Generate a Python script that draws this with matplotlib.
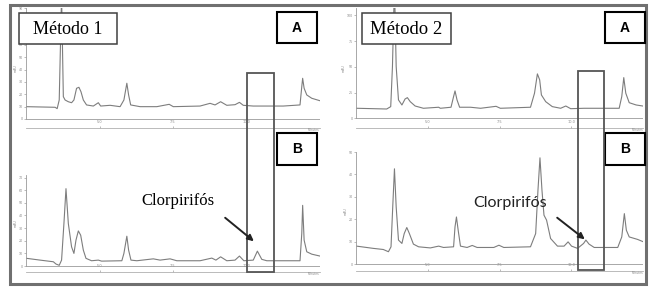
import matplotlib.pyplot as plt
from matplotlib.patches import Rectangle, FancyArrowPatch

W, H = 655, 292

# retention time (min) and detector signal
t_1a = [2.50, 3.49, 3.56, 3.63, 3.71, 3.77, 3.83, 3.94, 4.05, 4.13, 4.22, 4.30, 4.37, 4.45, 4.56,
        4.79, 4.96, 5.04, 5.36, 5.70, 5.83, 5.93, 5.99, 6.06, 6.38, 6.95, 7.37, 7.51, 8.42, 8.76,
        8.93, 9.12, 9.33, 9.61, 9.76, 9.89, 10.23, 11.25, 11.82, 11.88, 11.91, 11.96, 12.05, 12.22, 12.50]
s_1a = [10.0, 9.5, 8.4, 15.4, 100, 18.1, 15.4, 14.0, 13.2, 15.4, 24.9, 25.7, 22.1, 15.4, 11.4,
        10.5, 13.2, 10.5, 11.1, 10.0, 15.4, 29.0, 19.5, 11.4, 10.0, 10.0, 11.9, 10.0, 10.5, 12.7,
        11.4, 14.0, 11.1, 11.6, 13.5, 11.1, 10.5, 10.5, 11.4, 26.2, 33.0, 24.9, 19.5, 16.8, 14.8]

t_1b = [2.52, 2.98, 3.43, 3.52, 3.63, 3.71, 3.79, 3.86, 3.94, 4.05, 4.13, 4.20, 4.28, 4.36, 4.45,
        4.54, 4.73, 4.96, 5.07, 5.76, 5.83, 5.93, 5.99, 6.07, 6.27, 6.83, 7.06, 7.40, 7.63, 8.42,
        8.82, 8.96, 9.12, 9.33, 9.61, 9.76, 9.91, 10.23, 10.37, 10.52, 10.69, 11.82, 11.88, 11.91,
        11.96, 12.05, 12.22, 12.50]
s_1b = [6.1, 4.7, 3.4, 1.6, 0.6, 4.7, 33.6, 61.2, 33.6, 15.2, 10.0, 20.5, 27.8, 24.4, 12.6,
        6.1, 4.2, 4.7, 3.9, 4.2, 10.0, 23.6, 12.6, 4.7, 4.2, 5.7, 4.7, 5.7, 4.2, 4.2,
        6.3, 4.7, 7.3, 4.2, 4.7, 7.9, 4.2, 4.7, 11.8, 5.3, 4.2, 4.2, 25.7, 48.0,
        20.5, 11.3, 9.4, 7.9]

t_2a = [2.52, 3.57, 3.71, 3.77, 3.84, 3.90, 3.98, 4.10, 4.21, 4.29, 4.39, 4.56, 4.85, 5.38, 5.44,
        5.81, 5.90, 5.95, 6.02, 6.11, 6.49, 6.84, 7.38, 7.53, 8.58, 8.72, 8.82, 8.90, 8.96, 9.11,
        9.34, 9.63, 9.81, 9.98, 10.45, 11.67, 11.76, 11.83, 11.90, 12.02, 12.26, 12.49]
s_2a = [9.9, 9.2, 11.5, 50.3, 130, 50.3, 18.0, 13.1, 18.9, 20.2, 16.3, 12.1, 9.9, 10.9, 9.9,
        10.9, 21.2, 26.7, 18.0, 10.9, 10.9, 9.9, 11.8, 9.9, 10.9, 24.5, 43.2, 37.4, 22.8, 16.3,
        11.5, 9.9, 12.1, 9.5, 9.9, 9.9, 21.2, 39.6, 24.5, 15.3, 13.1, 12.1]

t_2b = [2.52, 3.10, 3.45, 3.63, 3.72, 3.78, 3.84, 3.90, 3.98, 4.10, 4.18, 4.27, 4.36, 4.50, 4.68,
        5.09, 5.38, 5.55, 5.90, 5.95, 6.00, 6.06, 6.14, 6.37, 6.55, 6.72, 7.30, 7.48, 7.65, 8.58,
        8.76, 8.84, 8.91, 8.98, 9.05, 9.14, 9.28, 9.52, 9.75, 9.89, 10.01, 10.22, 10.43, 10.51, 10.62,
        10.80, 11.62, 11.76, 11.85, 11.92, 12.02, 12.31, 12.50]
s_2b = [8.0, 7.0, 6.5, 5.5, 7.7, 25.5, 42.5, 25.5, 10.7, 9.2, 13.6, 16.3, 13.6, 8.9, 7.7,
        7.2, 8.0, 7.4, 7.7, 16.6, 21.0, 15.1, 8.0, 7.4, 8.3, 7.4, 7.4, 8.4, 7.4, 7.7,
        13.6, 32.9, 47.4, 32.9, 21.8, 19.6, 11.4, 8.0, 8.0, 9.9, 8.0, 7.0, 9.2, 10.7, 8.9,
        7.4, 7.4, 12.1, 22.5, 15.1, 12.1, 11.0, 10.0]

x_ticks = [5.0, 7.5, 10.0]
x_tick_labels = ['5.0', '7.5', '10.0']
method_labels = ['Método 1', 'Método 2']
target_label = 'Clorpirifós'

fig = plt.figure(figsize=(W / 100, H / 100), dpi=100)


def fx(x):
    return x / W


def fy(y):
    return 1 - y / H


def add_panel(left, top, right, bottom, t, s, ylim, yticks):
    ax = fig.add_axes([fx(left), fy(bottom), (right - left) / W, (bottom - top) / H])
    ax.plot(t, s, color='#7d7d7d', lw=0.8)
    ax.axhline(0, color='#9a9a9a', lw=0.6)
    ax.set_xlim(2.5, 12.5)
    ax.set_ylim(*ylim)
    ax.set_xticks(x_ticks)
    ax.set_xticklabels(x_tick_labels)
    ax.set_yticks(yticks)
    ax.tick_params(axis='x', direction='in', length=1.5, pad=-5.5, labelsize=2.5,
                   colors='#888888', width=0.4)
    ax.tick_params(axis='y', length=1.2, pad=1, labelsize=2.3, colors='#888888', width=0.4)
    for side in ['top', 'right']:
        ax.spines[side].set_visible(False)
    ax.spines['left'].set_bounds(0, ylim[1])
    ax.spines['left'].set_color('#9a9a9a')
    ax.spines['bottom'].set_color('#b0b0b0')
    ax.spines['left'].set_linewidth(0.6)
    ax.spines['bottom'].set_linewidth(0.6)
    ax.set_ylabel('mAU', fontsize=2.3, color='#888888', labelpad=1)
    ax.text(1.0, 0.0, 'Minutes', transform=ax.transAxes, ha='right', va='top',
            fontsize=2.2, color='#888888')
    ax.patch.set_alpha(0)
    return ax


add_panel(26, 8, 320, 128, t_1a, s_1a, (-7.3, 90), range(0, 91, 10))
add_panel(26, 175, 320, 272, t_1b, s_1b, (-4.7, 72), range(0, 71, 10))
add_panel(356, 8, 643, 128, t_2a, s_2a, (-9.2, 107), range(0, 101, 25))
add_panel(356, 152, 643, 271, t_2b, s_2b, (-3.1, 50), range(0, 51, 10))


def box(x0, y0, x1, y1, ec, lw):
    fig.add_artist(Rectangle((fx(x0), fy(y1)), (x1 - x0) / W, (y1 - y0) / H,
                             transform=fig.transFigure, facecolor='white', edgecolor=ec, lw=lw))


# outer frame
fig.add_artist(Rectangle((fx(10), fy(284)), 636 / W, 279 / H, transform=fig.transFigure,
                         facecolor='none', edgecolor='#707070', lw=2.2))

# method labels
box(19, 13, 117, 44, '#404040', 1.1)
fig.text(fx(68), fy(29), method_labels[0], ha='center', va='center',
         family='Liberation Serif', fontsize=13)
box(362, 13, 451, 44, '#404040', 1.1)
fig.text(fx(406.5), fy(29), method_labels[1], ha='center', va='center',
         family='Liberation Serif', fontsize=13.5)

# A / B labels
for x0 in [277, 605]:
    box(x0, 12, x0 + 40, 43, 'black', 1.5)
    fig.text(fx(x0 + 20), fy(28), 'A', ha='center', va='center',
             family='Liberation Sans', weight='bold', fontsize=10)
    box(x0, 133, x0 + 40, 165, 'black', 1.5)
    fig.text(fx(x0 + 20), fy(149), 'B', ha='center', va='center',
             family='Liberation Sans', weight='bold', fontsize=10)

# window around the chlorpyrifos peak
for x0, x1, y0, y1 in [(247, 274, 73, 272), (578, 604, 71, 270)]:
    fig.add_artist(Rectangle((fx(x0), fy(y1)), (x1 - x0) / W, (y1 - y0) / H,
                             transform=fig.transFigure, facecolor='none',
                             edgecolor='#555555', lw=1.3))

fig.text(fx(178), fy(201), target_label, ha='center', va='center',
         family='Liberation Serif', fontsize=12)
fig.text(fx(510), fy(203), target_label, ha='center', va='center',
         family='Lato', fontsize=11.5, color='#222222')

for a, b in [((223, 216), (256, 243)), ((555, 216), (587, 241))]:
    fig.add_artist(FancyArrowPatch((fx(a[0]), fy(a[1])), (fx(b[0]), fy(b[1])),
                                   transform=fig.transFigure, arrowstyle='-|>',
                                   mutation_scale=9, lw=1.4, color='#222222'))

fig.savefig('out.png', dpi=100)
